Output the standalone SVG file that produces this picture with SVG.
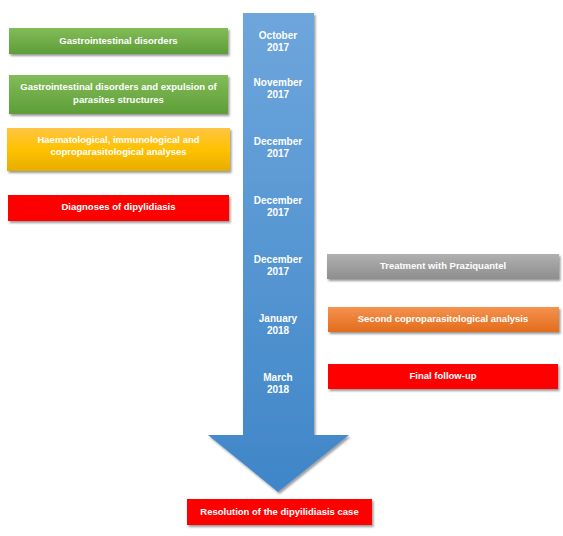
<svg xmlns="http://www.w3.org/2000/svg" width="563" height="536" viewBox="0 0 563 536">
<defs>
<linearGradient id="gGreen" x1="0" y1="0" x2="0" y2="1"><stop offset="0" stop-color="#82bc58"/><stop offset="1" stop-color="#5e9e37"/></linearGradient>
<linearGradient id="gYellow" x1="0" y1="0" x2="0" y2="1"><stop offset="0" stop-color="#ffc543"/><stop offset="0.5" stop-color="#ffc100"/><stop offset="1" stop-color="#e5ad00"/></linearGradient>
<linearGradient id="gGray" x1="0" y1="0" x2="0" y2="1"><stop offset="0" stop-color="#b0b0b0"/><stop offset="1" stop-color="#8e8e8e"/></linearGradient>
<linearGradient id="gOrange" x1="0" y1="0" x2="0" y2="1"><stop offset="0" stop-color="#f4924f"/><stop offset="1" stop-color="#e36c1b"/></linearGradient>
<linearGradient id="gBlue" x1="0" y1="0" x2="0" y2="1"><stop offset="0" stop-color="#6ea6dc"/><stop offset="1" stop-color="#3f86c8"/></linearGradient>
<filter id="sh" x="-10%" y="-30%" width="120%" height="170%"><feDropShadow dx="1.5" dy="2" stdDeviation="1.2" flood-color="#000" flood-opacity="0.4"/></filter>
</defs>
<style>
.box{filter:url(#sh)}
.t{font-family:"Liberation Sans",Arial,sans-serif;font-weight:bold;font-size:9.5px;fill:#fff;text-anchor:middle}
.d{font-family:"Liberation Sans",Arial,sans-serif;font-weight:bold;font-size:10px;fill:#fff;text-anchor:middle}
</style>
<rect width="563" height="536" fill="#fff"/>
<g id="connectors">
<path class="box" d="M243,13 H314 V435 H349 L278,492 L208,435 H243 Z" fill="url(#gBlue)"/>
</g>
<g id="dates">
<text class="d" x="278" y="39">October</text><text class="d" x="278" y="51">2017</text>
<text class="d" x="278" y="86">November</text><text class="d" x="278" y="98">2017</text>
<text class="d" x="278" y="145">December</text><text class="d" x="278" y="157">2017</text>
<text class="d" x="278" y="204">December</text><text class="d" x="278" y="216">2017</text>
<text class="d" x="278" y="263">December</text><text class="d" x="278" y="275">2017</text>
<text class="d" x="278" y="322">January</text><text class="d" x="278" y="334">2018</text>
<text class="d" x="278" y="381">March</text><text class="d" x="278" y="393">2018</text>
</g>
<g id="n1"><rect class="box" x="9" y="28" width="219" height="26" fill="url(#gGreen)"/><text class="t" x="118.5" y="44">Gastrointestinal disorders</text></g>
<g id="n2"><rect class="box" x="9" y="75" width="219" height="39" fill="url(#gGreen)"/><text class="t" x="118.5" y="90">Gastrointestinal disorders and expulsion of</text><text class="t" x="118.5" y="103">parasites structures</text></g>
<g id="n3"><rect class="box" x="7" y="128" width="223" height="43" fill="url(#gYellow)"/><text class="t" x="118.5" y="143">Haematological, immunological and</text><text class="t" x="118.5" y="155">coproparasitological analyses</text></g>
<g id="n4"><rect class="box" x="8" y="195" width="221" height="26" fill="#ff0000"/><text class="t" x="118.5" y="210">Diagnoses of dipylidiasis</text></g>
<g id="n5"><rect class="box" x="327" y="254" width="232" height="25" fill="url(#gGray)"/><text class="t" x="443" y="269">Treatment with Praziquantel</text></g>
<g id="n6"><rect class="box" x="328" y="307" width="231" height="25" fill="url(#gOrange)"/><text class="t" x="443" y="322">Second coproparasitological analysis</text></g>
<g id="n7"><rect class="box" x="328" y="364" width="230" height="25" fill="#ff0000"/><text class="t" x="443" y="379">Final follow-up</text></g>
<g id="n8"><rect class="box" x="187" y="499" width="185" height="26" fill="#ff0000"/><text class="t" x="279.5" y="515">Resolution of the dipyilidiasis case</text></g>
</svg>
